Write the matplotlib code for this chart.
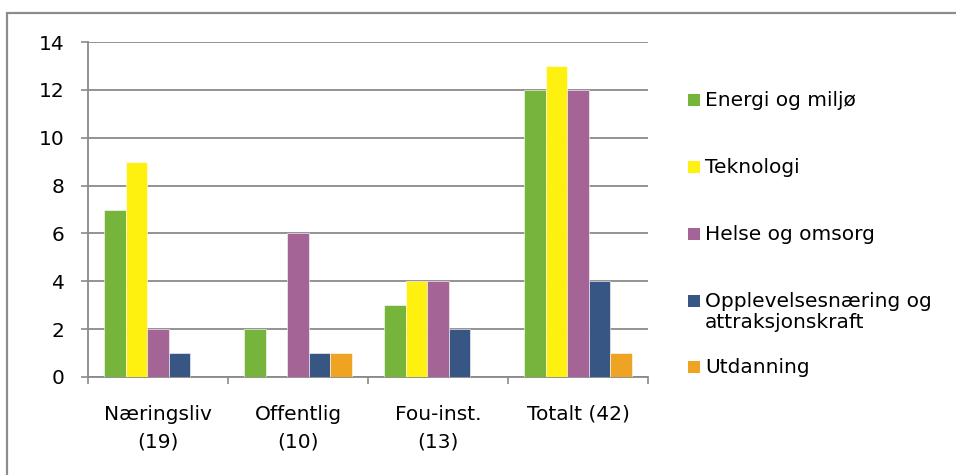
import numpy as np
import matplotlib.pyplot as plt
from matplotlib.patches import Rectangle

# ---- data ----
groups = ["Næringsliv\n(19)", "Offentlig\n(10)", "Fou-inst.\n(13)", "Totalt (42)"]
series = ["Energi og miljø", "Teknologi", "Helse og omsorg",
          "Opplevelsesnæring og\nattraksjonskraft", "Utdanning"]
energi = [7, 2, 3, 12]
teknologi = [9, 0, 4, 13]
helse = [2, 6, 4, 12]
opplevelse = [1, 1, 2, 4]
utdanning = [0, 1, 0, 1]
values = [energi, teknologi, helse, opplevelse, utdanning]
colors = ["#76B43B", "#FFF10F", "#A46496", "#385684", "#EEA422"]

W, H = 956, 475
plt.rcParams["font.family"] = ["DejaVu Sans"]
fig = plt.figure(figsize=(W / 100, H / 100), dpi=100)
FS = 14.5
grid_c = "#8a8a8a"

# outer frame (runs off right/bottom edge like the source)
fig.patches.append(Rectangle((7 / W, -0.1), 1.2, (H - 13) / H + 0.1,
                             transform=fig.transFigure, fill=False,
                             edgecolor="#8c8c8c", lw=1.6, zorder=0))

ax = fig.add_axes([88 / W, (H - 377) / H, (648 - 88) / W, (377 - 42) / H])

x = np.arange(len(groups))
bw = 21.5 / 140
for j, (name, vals, c) in enumerate(zip(series, values, colors)):
    ax.bar(x + (j - 2) * bw, vals, width=bw, color=c, label=name,
           edgecolor="white", linewidth=0.4, zorder=3)

ax.set_xlim(-0.5, len(groups) - 0.5)
ax.set_ylim(0, 14)
ax.set_yticks(range(0, 15, 2))
ax.yaxis.grid(True, color=grid_c, lw=1.3, zorder=0)
ax.set_axisbelow(True)

for s in ["top", "right"]:
    ax.spines[s].set_visible(False)
for s in ["left", "bottom"]:
    ax.spines[s].set_color(grid_c)
    ax.spines[s].set_linewidth(1.3)

ax.tick_params(axis="y", length=5, width=1.2, color=grid_c, pad=12,
               labelsize=FS)
ax.set_xticks(np.arange(-0.5, len(groups)))
ax.set_xticklabels([])
ax.tick_params(axis="x", which="major", length=5, width=1.2, color=grid_c)
ax.set_xticks(x, minor=True)
ax.set_xticklabels(groups, minor=True, fontsize=FS, linespacing=1.6)
ax.tick_params(axis="x", which="minor", length=0, pad=20)

# legend drawn by hand so the uneven Excel spacing can be kept
leg_y = [100, 167, 234, 301, 367]  # centre of first text line, px from top
for name, c, yy in zip(series, colors, leg_y):
    fig.patches.append(Rectangle((688 / W, (H - yy - 6) / H), 12 / W, 12 / H,
                                 transform=fig.transFigure, color=c, lw=0))
    fig.text(705 / W, (H - yy + 9) / H, name, fontsize=FS, va="top",
             ha="left", linespacing=1.1)

fig.savefig("out.png", dpi=100)
